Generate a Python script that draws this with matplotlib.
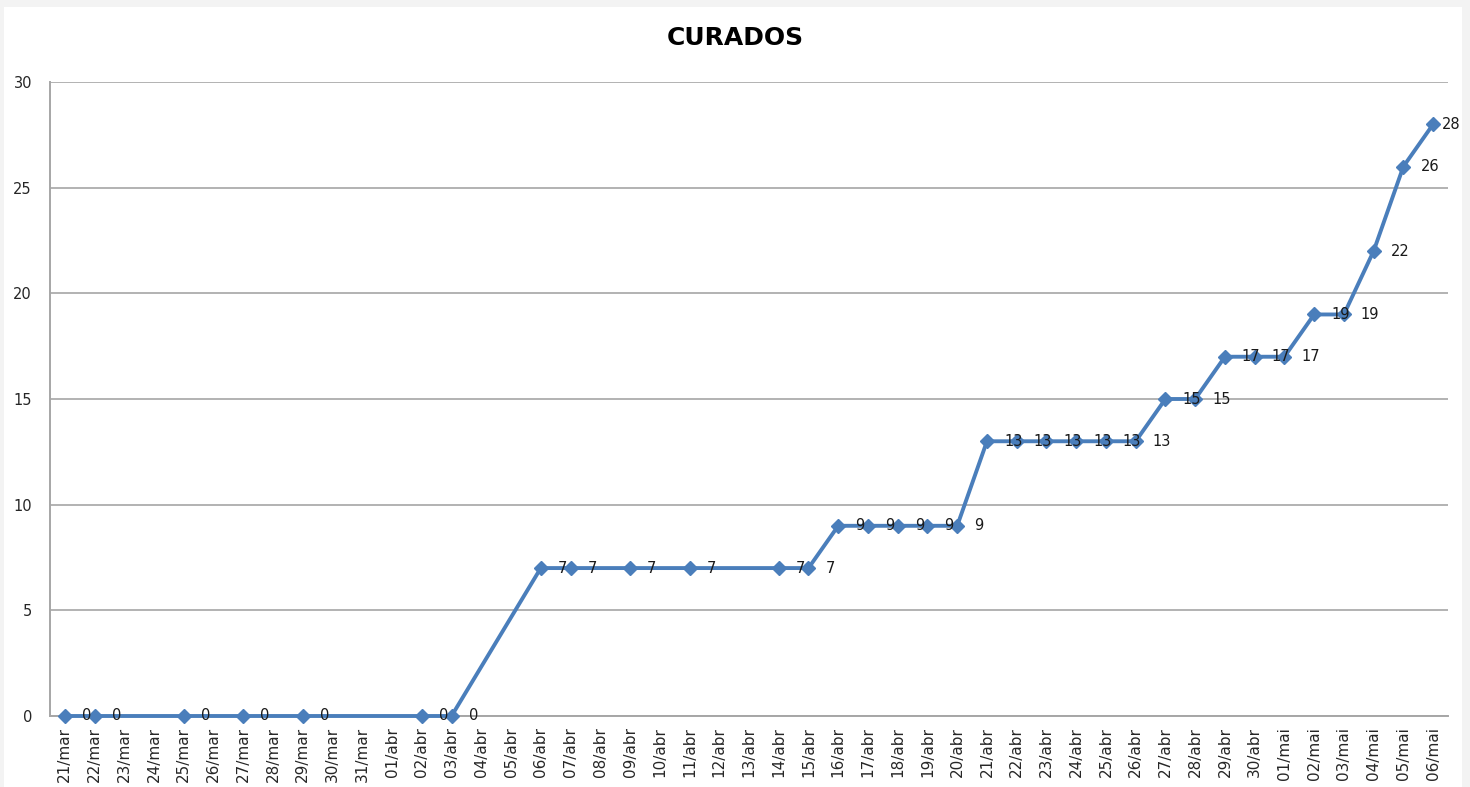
import numpy as np
import matplotlib
matplotlib.use("Agg")
import matplotlib.pyplot as plt
from matplotlib.patches import Rectangle

# categories on the x axis (every day, even those without a value)
mar_days = ["%02d/mar" % d for d in range(21, 32)]
abr_days = ["%02d/abr" % d for d in range(1, 31)]
mai_days = ["%02d/mai" % d for d in range(1, 7)]
dates = mar_days + abr_days + mai_days

# days that have a value, and the value
report_dates = ["21/mar", "22/mar", "25/mar", "27/mar", "29/mar", "02/abr", "03/abr",
                "06/abr", "07/abr", "09/abr", "11/abr", "14/abr", "15/abr",
                "16/abr", "17/abr", "18/abr", "19/abr", "20/abr",
                "21/abr", "22/abr", "23/abr", "24/abr", "25/abr", "26/abr",
                "27/abr", "28/abr", "29/abr", "30/abr", "01/mai",
                "02/mai", "03/mai", "04/mai", "05/mai", "06/mai"]
curados = [0, 0, 0, 0, 0, 0, 0,
           7, 7, 7, 7, 7, 7,
           9, 9, 9, 9, 9,
           13, 13, 13, 13, 13, 13,
           15, 15, 17, 17, 17,
           19, 19, 22, 26, 28]

yticks = [0, 5, 10, 15, 20, 25, 30]

BLUE = "#4a7ebb"
GRID = "#a6a6a6"
TXT = "#262626"

fig = plt.figure(figsize=(14.7, 7.87), dpi=100, facecolor="#f3f3f3")
fig.patches.append(Rectangle((4 / 1470, 0), 1458 / 1470, 780 / 787,
                             transform=fig.transFigure, facecolor="white",
                             edgecolor="none", zorder=-10))

ax = fig.add_axes([50 / 1470, 1 - 716 / 787, 1398 / 1470, 634 / 787])
ax.set_facecolor("none")
ax.set_zorder(1)

xs = [dates.index(d) for d in report_dates]
ax.plot(xs, curados, color=BLUE, lw=2.8, marker="D", ms=7.5,
        markerfacecolor=BLUE, markeredgecolor=BLUE, zorder=3, clip_on=False)

for i, (x, v) in enumerate(zip(xs, curados)):
    off = 9 if i == len(xs) - 1 else 17
    ax.annotate(str(v), (x, v), xytext=(off, 0), textcoords="offset pixels",
                ha="left", va="center", fontsize=10.5, color="#1a1a1a", zorder=4)

ax.set_xlim(-0.5, len(dates) - 0.5)
ax.set_ylim(0, 30)
ax.set_yticks(yticks)
ax.set_xticks(range(len(dates)))
ax.set_xticklabels(dates, rotation=90, fontsize=11, color=TXT)
ax.tick_params(axis="y", length=0, pad=13, labelsize=10.5, labelcolor=TXT)
ax.tick_params(axis="x", length=0, pad=8)
for t in ax.get_xticklabels():
    t.set_va("top")

ax.grid(axis="y", color=GRID, lw=1.2)
ax.set_axisbelow(True)
for s in ["top", "right"]:
    ax.spines[s].set_visible(False)
for s in ["left", "bottom"]:
    ax.spines[s].set_color(GRID)
    ax.spines[s].set_linewidth(1.4)

fig.text(0.5, 1 - 38 / 787, "CURADOS", ha="center", va="center",
         fontsize=18, fontweight="bold", color="black")

fig.savefig("out.png", dpi=100, facecolor=fig.get_facecolor())
